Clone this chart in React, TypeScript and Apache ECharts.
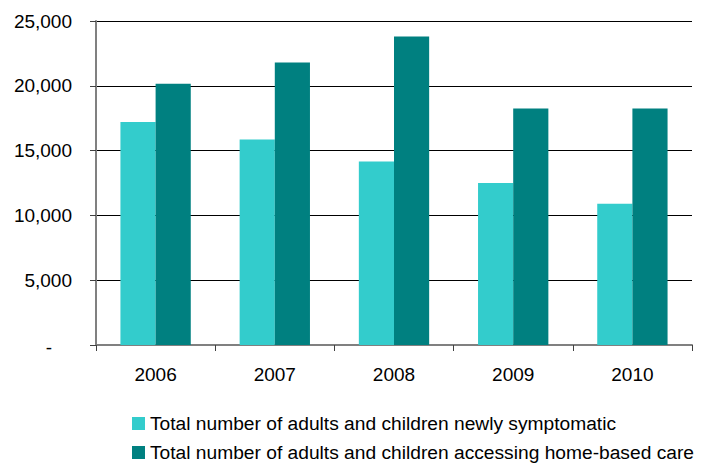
import React, { useEffect, useRef } from "react";
import * as echarts from "echarts";

const categories = ["2006", "2007", "2008", "2009", "2010"];
const newlySymptomatic = [17200, 15850, 14150, 12500, 10900];
const homeBasedCare = [20150, 21800, 23800, 18250, 18250];
const seriesNames = [
  "Total number of adults and children newly symptomatic",
  "Total number of adults and children accessing home-based care",
];

const FONT = "'Liberation Sans', Arial, sans-serif";

export default function App() {
  const ref = useRef<HTMLDivElement>(null);
  useEffect(() => {
    if (!ref.current) return;
    const chart = echarts.init(ref.current, undefined, { renderer: "svg" });
    const legendBase = {
      orient: "horizontal",
      left: 132,
      itemWidth: 13,
      itemHeight: 13,
      icon: "rect",
      padding: 0,
      textStyle: { fontSize: 19.2, color: "#000", fontFamily: FONT },
    };
    chart.setOption({
      animation: false,
      backgroundColor: "#ffffff",
      textStyle: { fontFamily: FONT },
      grid: { left: 96, right: 11, top: 21, bottom: 119, containLabel: false },
      legend: [
        { ...legendBase, top: 414, data: [seriesNames[0]] },
        { ...legendBase, top: 443, data: [seriesNames[1]] },
      ],
      xAxis: {
        type: "category",
        data: categories,
        axisLine: { show: true, lineStyle: { color: "#808080", width: 2 } },
        axisTick: { show: true, length: 6, lineStyle: { color: "#404040", width: 1 } },
        axisLabel: { color: "#000", fontSize: 19, margin: 20, fontFamily: FONT },
      },
      yAxis: {
        type: "value",
        min: 0,
        max: 25000,
        interval: 5000,
        axisLine: { show: true, lineStyle: { color: "#808080", width: 2 } },
        axisTick: { show: true, length: 6, lineStyle: { color: "#404040", width: 1 } },
        splitLine: { show: true, lineStyle: { color: "#000", width: 1 } },
        axisLabel: {
          color: "#000",
          fontSize: 19,
          margin: 24,
          fontFamily: FONT,
          formatter: (v: number) => (v === 0 ? "{z|-}" : v.toLocaleString("en-US")),
          rich: { z: { fontSize: 19, color: "#000", padding: [4, 20, 0, 0], fontFamily: FONT } },
        },
      },
      series: [
        {
          name: seriesNames[0],
          type: "bar",
          data: newlySymptomatic,
          itemStyle: { color: "#33CCCC" },
          barGap: "0%",
          barCategoryGap: "41%",
        },
        {
          name: seriesNames[1],
          type: "bar",
          data: homeBasedCare,
          itemStyle: { color: "#008080" },
          barGap: "0%",
          barCategoryGap: "41%",
        },
      ],
    });
    return () => chart.dispose();
  }, []);
  return (
    <div
      ref={ref}
      style={{ position: "fixed", left: 0, top: 0, width: 703, height: 464 }}
    />
  );
}
